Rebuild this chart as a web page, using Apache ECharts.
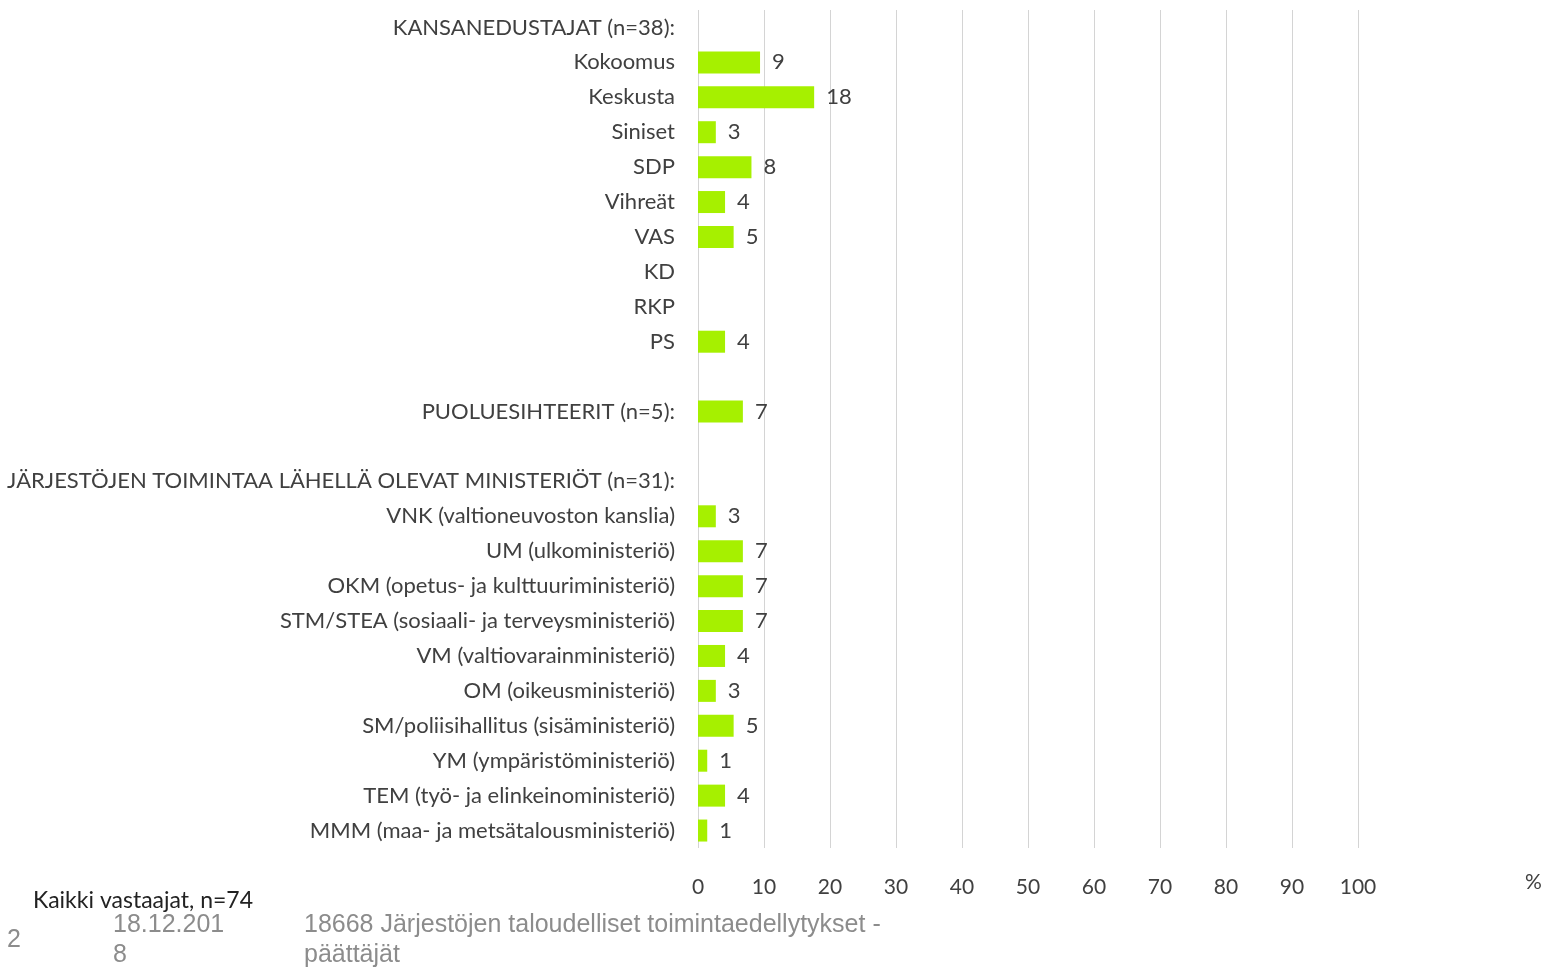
<!DOCTYPE html>
<html>
<head>
<meta charset="utf-8">
<script src="https://cdn.jsdelivr.net/npm/echarts@6/dist/echarts.min.js"></script>
<style>
  html, body { margin: 0; padding: 0; background: #fff; }
  #main { width: 1548px; height: 971px; }
</style>
</head>
<body>
<div id="main"></div>
<script>
// Categories (top to bottom); blank rows are spacers
var categories = [
  'KANSANEDUSTAJAT (n=38):',
  'Kokoomus',
  'Keskusta',
  'Siniset',
  'SDP',
  'Vihreät',
  'VAS',
  'KD',
  'RKP',
  'PS',
  ' ',
  'PUOLUESIHTEERIT (n=5):',
  '  ',
  'JÄRJESTÖJEN TOIMINTAA LÄHELLÄ OLEVAT MINISTERIÖT (n=31):',
  'VNK (valtioneuvoston kanslia)',
  'UM (ulkoministeriö)',
  'OKM (opetus- ja kulttuuriministeriö)',
  'STM/STEA (sosiaali- ja terveysministeriö)',
  'VM (valtiovarainministeriö)',
  'OM (oikeusministeriö)',
  'SM/poliisihallitus (sisäministeriö)',
  'YM (ympäristöministeriö)',
  'TEM (työ- ja elinkeinoministeriö)',
  'MMM (maa- ja metsätalousministeriö)'
];

// Percent of all respondents (n=74)
var values = [
  null, 9.4, 17.6, 2.7, 8.1, 4.1, 5.4, null, null, 4.1,
  null, 6.8, null,
  null, 2.7, 6.8, 6.8, 6.8, 4.1, 2.7, 5.4, 1.4, 4.1, 1.4
];

var xTicks = [0, 10, 20, 30, 40, 50, 60, 70, 80, 90, 100];

var textColor = '#404040';
var chartFont = 'Lato, "Open Sans", sans-serif';
var footFont = '"Liberation Sans Narrow", "Liberation Sans", Arial, sans-serif';

var chart = echarts.init(document.getElementById('main'));

chart.setOption({
  animation: false,
  textStyle: { fontFamily: chartFont },
  grid: {
    left: 698,
    right: 190,
    top: 10,
    bottom: 123,
    containLabel: false
  },
  xAxis: {
    type: 'value',
    min: xTicks[0],
    max: xTicks[xTicks.length - 1],
    interval: 10,
    axisLine: { show: false },
    axisTick: { show: false },
    splitLine: {
      show: true,
      lineStyle: { color: '#d4d4d4', width: 1 }
    },
    axisLabel: {
      margin: 29,
      fontSize: 21,
      color: textColor,
      fontFamily: chartFont
    }
  },
  yAxis: {
    type: 'category',
    inverse: true,
    data: categories,
    axisLine: { show: false },
    axisTick: { show: false },
    axisLabel: {
      margin: 23,
      fontSize: 22,
      color: textColor,
      fontFamily: chartFont,
      interval: 0
    }
  },
  series: [
    {
      type: 'bar',
      data: values,
      barWidth: 22,
      itemStyle: { color: '#a6f000' },
      label: {
        show: true,
        position: 'right',
        distance: 12,
        fontSize: 22,
        color: textColor,
        fontFamily: chartFont,
        formatter: function (p) {
          return p.value == null ? '' : Math.round(p.value);
        }
      }
    }
  ],
  graphic: [
    {
      type: 'text',
      left: 1525,
      top: 872,
      style: { text: '%', fontSize: 21, fill: textColor, fontFamily: chartFont }
    },
    {
      type: 'text',
      left: 33,
      top: 889,
      style: { text: 'Kaikki vastaajat, n=74', fontSize: 23, fill: '#222', fontFamily: chartFont }
    },
    {
      type: 'text',
      left: 7,
      top: 928,
      style: { text: '2', fontSize: 25, fill: '#8c8c8c', fontFamily: footFont }
    },
    {
      type: 'text',
      left: 113,
      top: 910,
      style: { text: '18.12.201\n8', fontSize: 25, lineHeight: 30, fill: '#8c8c8c', fontFamily: footFont }
    },
    {
      type: 'text',
      left: 304,
      top: 910,
      style: {
        text: '18668 Järjestöjen taloudelliset toimintaedellytykset -\npäättäjät',
        fontSize: 25, lineHeight: 30, fill: '#8c8c8c', fontFamily: footFont
      }
    }
  ]
});
</script>
</body>
</html>
